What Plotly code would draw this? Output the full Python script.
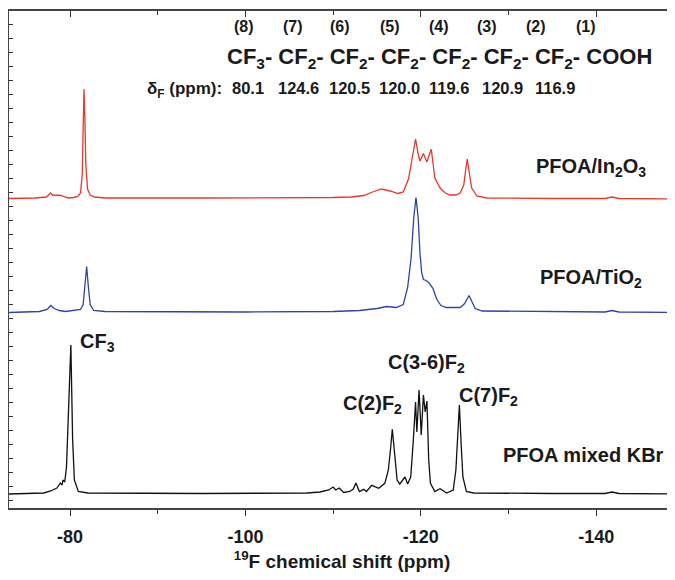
import plotly.graph_objects as go

# ---------------- data ----------------
# chemical shift (ppm) and intensity above each trace's own baseline (arb. units)
red_ppm = [-73.0, -76.0, -77.3, -77.6, -77.8, -78.0, -78.5, -79.0, -79.4, -79.8, -80.4, -80.9,
           -81.2, -81.4, -81.5, -81.6, -81.7, -81.8, -82.0, -82.3, -82.8, -84.0, -95.0, -105.0,
           -110.0, -112.0, -113.5, -114.5, -115.5, -116.5, -117.4, -118.0, -118.6, -119.0,
           -119.4, -119.7, -119.9, -120.3, -120.7, -121.0, -121.2, -121.4, -121.6, -122.2,
           -122.8, -123.3, -124.0, -124.5, -124.9, -125.1, -125.3, -125.5, -125.8, -126.4,
           -127.5, -135.0, -141.0, -141.8, -142.6, -150.0]
red_int = [0.5, 1, 2, 4, 6, 4, 3.5, 3.5, 2, 1, 1.5, 2.5,
           6, 25, 70, 110, 80, 35, 10, 4, 2, 1, 1, 1,
           1.5, 2, 3.5, 7, 10, 8, 5.5, 7, 20, 40,
           60, 45, 38, 45.5, 37, 45, 49.7, 35, 21, 11,
           6, 4, 4, 6, 14, 28, 40, 28, 11, 3,
           1, 0.5, 0.5, 2, 0.5, 0]

blue_ppm = [-73.0, -76.5, -77.4, -77.8, -78.2, -78.8, -79.5, -80.5, -80.8, -81.2, -81.5, -81.7,
            -81.9, -82.1, -82.3, -82.7, -84.0, -100.0, -110.0, -113.0, -115.0, -116.1, -117.2,
            -118.0, -118.5, -118.9, -119.2, -119.45, -119.7, -119.9, -120.1, -120.3, -120.6,
            -120.9, -121.2, -121.4, -121.7, -121.9, -122.3, -122.9, -124.5, -125.0, -125.5,
            -125.9, -126.2, -127.0, -135.0, -141.0, -141.8, -142.6, -150.0]
blue_int = [0, 1, 3, 7, 4, 2, 1, 2, 3, 3, 8, 25,
            46, 25, 8, 2, 1, 0.5, 1, 2, 4, 6, 5,
            8, 25, 55, 95, 115, 95, 60, 40, 33, 32,
            30, 27, 24, 16, 12, 7, 5, 5, 9, 17,
            9, 4, 1.5, 1, 0.5, 2, 0.5, 0]

black_ppm = [-73.0, -77.0, -77.8, -78.1, -78.5, -78.9, -79.1, -79.2, -79.4, -79.6, -79.8, -80.1,
             -80.3, -80.5, -80.95, -82.0, -95.0, -107.0, -108.5, -109.5, -110.0, -110.3, -110.7,
             -111.2, -111.9, -112.3, -112.6, -113.0, -113.5, -113.8, -114.4, -115.2, -115.9,
             -116.3, -116.55, -116.75, -117.05, -117.3, -117.6, -118.2, -118.5, -118.85,
             -119.15, -119.4, -119.55, -119.8, -120.05, -120.3, -120.5, -120.7, -120.9, -121.1,
             -121.6, -122.2, -122.95, -123.7, -124.0, -124.2, -124.4, -124.6, -124.8, -125.2,
             -126.0, -135.0, -141.0, -141.8, -142.6, -150.0]
black_int = [0, 1, 3, 4, 6, 11, 9, 14, 12, 27, 71, 149,
             54, 14, 2.5, 1, 0.5, 1, 2, 4, 7, 4, 6,
             1.5, 2.5, 5, 11, 2.5, 4.7, 2.5, 8.7, 5.7, 10.7,
             24, 45, 64.7, 37, 14, 10, 17, 10, 17,
             54, 92, 62, 104, 59, 99, 82, 93, 34, 10.7,
             2.5, 5.3, 1, 4, 24, 55, 89, 50, 17, 2.5,
             1, 0.5, 0.5, 2, 0.5, 0]

series_names = ["PFOA/In<sub>2</sub>O<sub>3</sub>", "PFOA/TiO<sub>2</sub>", "PFOA mixed KBr"]
group_numbers = ["(8)", "(7)", "(6)", "(5)", "(4)", "(3)", "(2)", "(1)"]
shift_values = ["80.1", "124.6", "120.5", "120.0", "119.6", "120.9", "116.9"]
peak_labels = ["CF<sub>3</sub>", "C(2)F<sub>2</sub>", "C(3-6)F<sub>2</sub>", "C(7)F<sub>2</sub>"]
x_ticks = [-80, -100, -120, -140]

# ---------------- layout constants ----------------
PAGE = 8                               # page body margin around the figure
WIN_W, WIN_H = 675, 580
W, H = WIN_W - PAGE, WIN_H - PAGE      # figure size so it fits in the window
# plot area in window pixels
L, R, T, B = 9, 675, 11, 508
PX_PER_PPM = 8.77
X_LEFT = -80 + (70 - L) / PX_PER_PPM
X_RIGHT = -80 - (R - 70) / PX_PER_PPM
Y_MAX = B - T
offsets = {"red": 309, "blue": 195.5, "black": 14}
FONT = "Liberation Sans, Arial, Helvetica, sans-serif"


def px(x, y):
    return (x - L) / (R - L), (B - y) / (B - T)


fig = go.Figure()
for ppm, inten, col, key in [(red_ppm, red_int, "#e8372c", "red"),
                             (blue_ppm, blue_int, "#2b44a6", "blue"),
                             (black_ppm, black_int, "#111111", "black")]:
    fig.add_trace(go.Scatter(x=ppm, y=[v + offsets[key] for v in inten], mode="lines",
                             line=dict(color=col, width=1.3), showlegend=False,
                             hoverinfo="skip"))

# invisible trace for the top axis
fig.add_trace(go.Scatter(x=[X_LEFT], y=[0], xaxis="x2", mode="markers",
                         marker=dict(opacity=0), showlegend=False, hoverinfo="skip"))

ann = []


def add_text(text, x, y, size, xanchor="center", yanchor="middle"):
    xp, yp = px(x, y)
    ann.append(dict(text=text, x=xp, y=yp, xref="paper", yref="paper", showarrow=False,
                    xanchor=xanchor, yanchor=yanchor,
                    font=dict(family=FONT, size=size, color="#1a1a1a", weight="bold")))


# header
num_x = [244, 293, 340, 390, 439, 487, 536, 586]
for t, x in zip(group_numbers, num_x):
    add_text(t, x, 27, 16)
add_text("CF<sub>3</sub>- CF<sub>2</sub>- CF<sub>2</sub>- CF<sub>2</sub>- CF<sub>2</sub>- "
         "CF<sub>2</sub>- CF<sub>2</sub>- COOH", 225, 58, 22, xanchor="left")
add_text("δ<sub>F</sub> (ppm):", 145, 90, 17, xanchor="left")
val_x = [248, 298, 349, 399, 449, 502, 555]
for t, x in zip(shift_values, val_x):
    add_text(t, x, 88, 16.5)

# series labels
add_text(series_names[0], 591, 168, 20)
add_text(series_names[1], 591, 278, 20)
add_text(series_names[2], 583, 455, 20)

# peak labels
add_text(peak_labels[0], 78, 343, 20, xanchor="left")
add_text(peak_labels[1], 341, 404, 20, xanchor="left")
add_text(peak_labels[2], 386, 363, 20, xanchor="left")
add_text(peak_labels[3], 457, 396, 20, xanchor="left")

fig.update_layout(
    width=W, height=H,
    margin=dict(l=L - PAGE, r=0, t=T - PAGE, b=WIN_H - B),
    paper_bgcolor="white", plot_bgcolor="white",
    annotations=ann,
    xaxis=dict(range=[X_LEFT, X_RIGHT], tickvals=x_ticks, ticktext=[str(v) for v in x_ticks],
               ticks="outside", ticklen=6, tickwidth=1, tickcolor="#333",
               ticklabelstandoff=6,
               showline=True, linecolor="#444", linewidth=1.5, showgrid=False, zeroline=False,
               minor=dict(dtick=10, tick0=-80, ticks="outside", ticklen=4, tickcolor="#333"),
               tickfont=dict(family=FONT, size=18, color="#1a1a1a", weight="bold"),
               title=dict(text="<sup>19</sup>F chemical shift (ppm)", standoff=8,
                          font=dict(family=FONT, size=19, color="#1a1a1a", weight="bold"))),
    xaxis2=dict(range=[X_LEFT, X_RIGHT], overlaying="x", side="top", anchor="y",
                tickvals=x_ticks, showticklabels=False, ticks="inside", ticklen=6,
                tickcolor="#333", showline=True, linecolor="#444", linewidth=1.5,
                showgrid=False, zeroline=False,
                minor=dict(dtick=10, tick0=-80, ticks="inside", ticklen=4, tickcolor="#333")),
    yaxis=dict(range=[0, Y_MAX], showticklabels=False, ticks="inside", ticklen=4,
               tick0=8, dtick=14, tickcolor="#333", showline=True, linecolor="#444",
               linewidth=1.5, showgrid=False, zeroline=False),
)

fig.write_html("out.html")
